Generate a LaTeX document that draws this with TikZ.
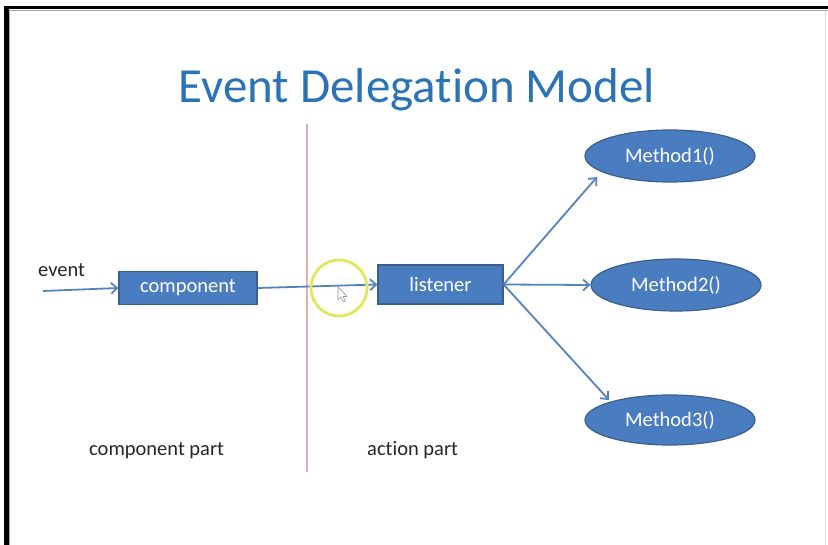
\documentclass[tikz,border=0pt]{standalone}
\usepackage{fontspec}
\setmainfont{Carlito}[Ligatures=NoCommon]
\usetikzlibrary{arrows.meta,shapes.geometric}
\definecolor{boxfill}{HTML}{4A7DC0}
\definecolor{boxline}{HTML}{3A5F8F}
\definecolor{arrowc}{HTML}{5682C0}
\definecolor{titleblue}{HTML}{2A73B6}
\definecolor{redline}{HTML}{E3AFAF}
\definecolor{hl}{HTML}{E2E855}
\definecolor{labeltext}{HTML}{262626}
\tikzset{
  bodyfont/.style={font=\fontsize{20.5}{24}\selectfont},
  rectbox/.style={draw=boxline, fill=boxfill, line width=1.2pt, text=white, bodyfont, inner sep=0pt},
  methnode/.style={ellipse, draw=boxline, fill=boxfill, line width=1.2pt, text=white, bodyfont, inner sep=0pt, minimum width=170pt, minimum height=52pt},
  conn/.style={draw=arrowc, line width=1.8pt, -{Straight Barb[length=6pt,width=11pt,line width=1.8pt]}},
  plainlabel/.style={text=labeltext, bodyfont, inner sep=0pt}
}
\begin{document}
\begin{tikzpicture}[x=1pt,y=-1pt]
\useasboundingbox (0,0) rectangle (828,545);
\fill[white] (0,0) rectangle (828,545);
% screenshot frame
\fill[black] (4,6.5) rectangle (8.5,545);
\fill[black] (4,6.5) rectangle (828,9.5);
\draw[gray!70, line width=1pt] (9.5,545) -- (9.5,10.5) -- (828,10.5);
\draw[gray!25, line width=0.8pt] (825.5,11) -- (825.5,545);
% title
\node[text=titleblue, font=\fontsize{49}{56}\selectfont, anchor=base, inner sep=0pt] (title) at (417,103) {Event Delegation Model};
% divider
\coordinate (divtop) at (307,124);
\coordinate (divbot) at (307,472);
\draw[redline, line width=1.5pt] (divtop) -- (divbot);
% nodes
\node[rectbox, minimum width=138pt, minimum height=33pt] (comp) at (188,288) {component};
\node[rectbox, minimum width=125pt, minimum height=39pt] (lis) at (440.5,284.5) {listener};
\node[methnode] (m1) at (670,156) {Method1()};
\node[methnode] (m2) at (676,285) {Method2()};
\node[methnode, minimum height=50pt] (m3) at (670,420) {Method3()};
% labels
\node[plainlabel, anchor=base west] (evlabel) at (38,277) {event};
\node[plainlabel, anchor=base west] (cpart) at (89,456) {component part};
\node[plainlabel, anchor=base west] (apart) at (367,456) {action part};
% connectors
\coordinate (evstart) at (43,291);
\draw[conn] (evstart) -- (comp.west);
\draw[conn] (comp.east) -- (lis.west);
\draw[conn] (lis.east) -- ([shift={(-73pt,-21pt)}]m1.center);
\draw[conn] (lis.east) -- (m2.west);
\draw[conn] (lis.east) -- ([shift={(-61pt,20pt)}]m3.center);
% highlight circle and mouse pointer
\node[circle, draw=hl, line width=2.8pt, minimum size=56pt, inner sep=0pt] (hlc) at (339,288) {};
\draw[gray!80, fill=white, line width=0.6pt, line join=round]
  (338,287) -- (338,300) -- (341,297) -- (343.5,302) -- (345.5,301) -- (343,296.5) -- (347,296.5) -- cycle;
\end{tikzpicture}
\end{document}
